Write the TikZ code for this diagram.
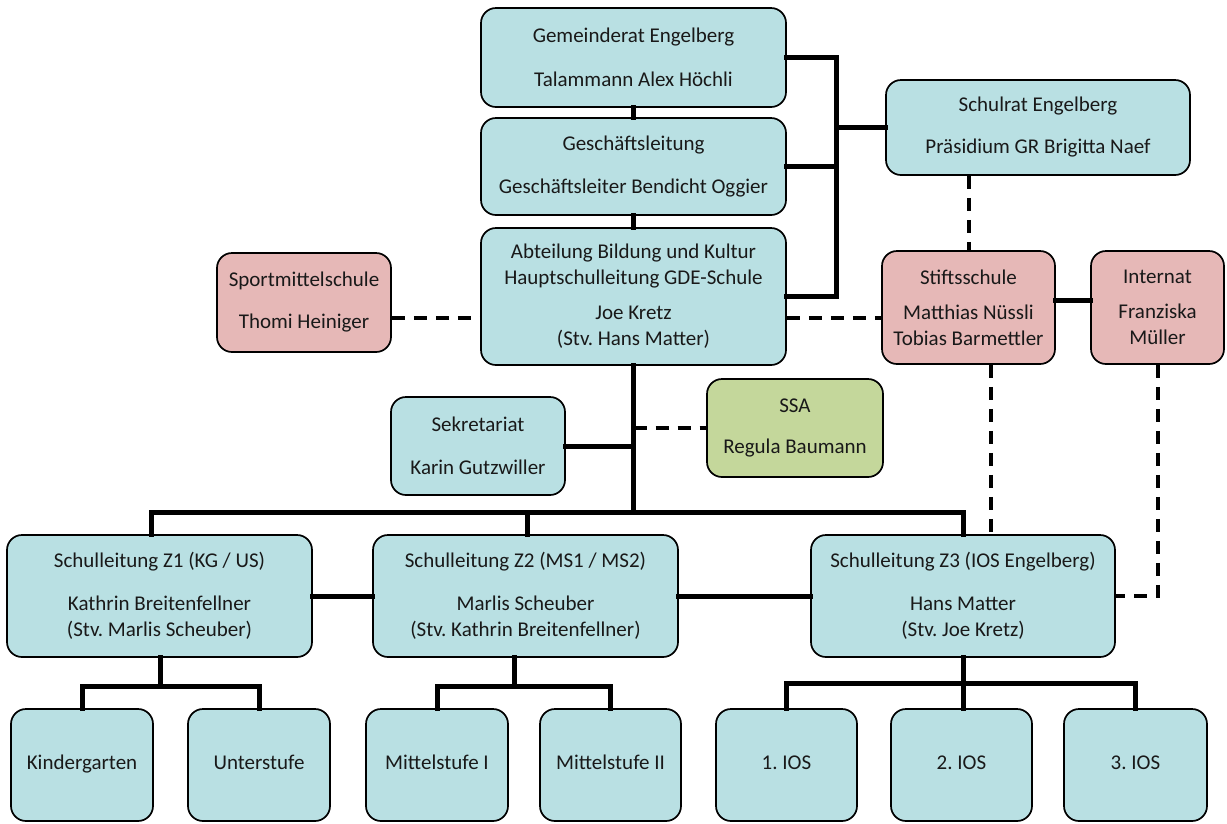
\documentclass[tikz,border=0pt]{standalone}
\usepackage{fontspec}
\setmainfont{Carlito}
\frenchspacing
\usetikzlibrary{calc}
\definecolor{bluebox}{HTML}{B9E0E3}
\definecolor{redbox}{HTML}{E6B8B7}
\definecolor{greenbox}{HTML}{C4D79B}
\tikzset{
  box/.style={draw=black, line width=1.7pt, rounded corners=15pt, fill=bluebox,
    align=center, inner sep=0pt, font=\fontsize{21}{26}\selectfont, text=black!90},
  redb/.style={box, fill=redbox},
  greenb/.style={box, fill=greenbox},
  leafbox/.style={box, minimum height=112, text height=14pt, text depth=5pt},
  conn/.style={line width=5pt, line join=miter, line cap=rect},
  dashconn/.style={line width=4pt, dash pattern=on 13pt off 9pt},
}
\begin{document}
\begin{tikzpicture}[x=1pt, y=-1pt]
\useasboundingbox (0,0) rectangle (1227,823);
% top column
\node[box, minimum width=305, minimum height=99] (gem) at (633.5,57.5) {Gemeinderat Engelberg\\[18pt]Talammann Alex Höchli};
\node[box, minimum width=305, minimum height=97] (gl) at (633.5,166.5) {Geschäftsleitung\\[17pt]Geschäftsleiter Bendicht Oggier};
\node[box, minimum width=305, minimum height=137] (abt) at (633.5,296.5) {Abteilung Bildung und Kultur\\Hauptschulleitung GDE-Schule\\[9pt]Joe Kretz\\(Stv. Hans Matter)};
\node[box, minimum width=304, minimum height=95] (schulrat) at (1038,127.5) {Schulrat Engelberg\\[16pt]Präsidium GR Brigitta Naef};
% side boxes
\node[redb, minimum width=174, minimum height=99] (sport) at (304,302.5) {Sportmittelschule\\[16pt]Thomi Heiniger};
\node[redb, minimum width=173, minimum height=113] (stift) at (968.5,307.5) {Stiftsschule\\[9pt]Matthias Nüssli\\Tobias Barmettler};
\node[redb, minimum width=133, minimum height=113] (intern) at (1157.5,307.5) {Internat\\[9pt]Franziska\\Müller};
\node[box, minimum width=174, minimum height=98] (sek) at (478,446) {Sekretariat\\[17pt]Karin Gutzwiller};
\node[greenb, minimum width=176, minimum height=98] (ssa) at (795,428) {SSA\\[15pt]Regula Baumann};
% school leaders
\node[box, minimum width=305, minimum height=122] (z1) at (159.5,596) {Schulleitung Z1 (KG / US)\\[17pt]Kathrin Breitenfellner\\(Stv. Marlis Scheuber)};
\node[box, minimum width=305, minimum height=122] (z2) at (525.5,596) {Schulleitung Z2 (MS1 / MS2)\\[17pt]Marlis Scheuber\\(Stv. Kathrin Breitenfellner)};
\node[box, minimum width=304, minimum height=122] (z3) at (963,596) {Schulleitung Z3 (IOS Engelberg)\\[17pt]Hans Matter\\(Stv. Joe Kretz)};
% bottom row
\node[leafbox, minimum width=142] (kg) at (82,765) {Kindergarten};
\node[leafbox, minimum width=142] (us) at (259,765) {Unterstufe};
\node[leafbox, minimum width=142] (m1) at (437,765) {Mittelstufe I};
\node[leafbox, minimum width=141] (m2) at (610.5,765) {Mittelstufe II};
\node[leafbox, minimum width=141] (i1) at (786.5,765) {1. IOS};
\node[leafbox, minimum width=141] (i2) at (961.5,765) {2. IOS};
\node[leafbox, minimum width=143] (i3) at (1135.5,765) {3. IOS};

% helper coordinates
\coordinate (bx) at (836,0);
\coordinate (busL) at (151,512);
\coordinate (busR) at (963,512);
\coordinate (z1d) at (160,686);
\coordinate (z2d) at (514,686);
\coordinate (z3d) at (963,683);

% solid connectors
\draw[conn] (gem) -- (gl);
\draw[conn] (gl) -- (abt);
\draw[conn] (gem.east) -- (gem.east -| bx) -- (abt.east -| bx) -- (abt.east);
\draw[conn] (gl.east) -- (gl.east -| bx);
\draw[conn] (schulrat.west) -- (schulrat.west -| bx);
\draw[conn] (abt.south) -- (abt.south |- busL);
\draw[conn] (z1.north -| busL) -- (busL) -- (busR) -- (z3.north);
\draw[conn] (z2.north -| 527,0) -- (527,512);
\draw[conn] (sek.east) -- (sek.east -| abt.south);
\draw[conn] (z1.east) -- (z2.west);
\draw[conn] (z2.east) -- (z3.west);
\draw[conn] (stift.east |- 0,300) -- (intern.west |- 0,300);
\draw[conn] (z1.south -| z1d) -- (z1d);
\draw[conn] (kg.north) -- (kg.north |- z1d) -- (us.north |- z1d) -- (us.north);
\draw[conn] (z2.south -| z2d) -- (z2d);
\draw[conn] (m1.north) -- (m1.north |- z2d) -- (m2.north |- z2d) -- (m2.north);
\draw[conn] (z3.south) -- (i2.north -| z3.south);
\draw[conn] (i1.north) -- (i1.north |- z3d) -- (i3.north |- z3d) -- (i3.north);

% dashed connectors
\draw[dashconn] (sport.east |- 0,318) -- (abt.west |- 0,318);
\draw[dashconn] (abt.east |- 0,318) -- (stift.west |- 0,318);
\draw[dashconn] (abt.south |- 0,428) -- (ssa.west);
\draw[dashconn] (schulrat.south -| stift.north) -- (stift.north);
\draw[dashconn] (stift.south -| 991,0) -- (z3.north -| 991,0);
\draw[dashconn] (intern.south) |- (z3.east);
\end{tikzpicture}
\end{document}
